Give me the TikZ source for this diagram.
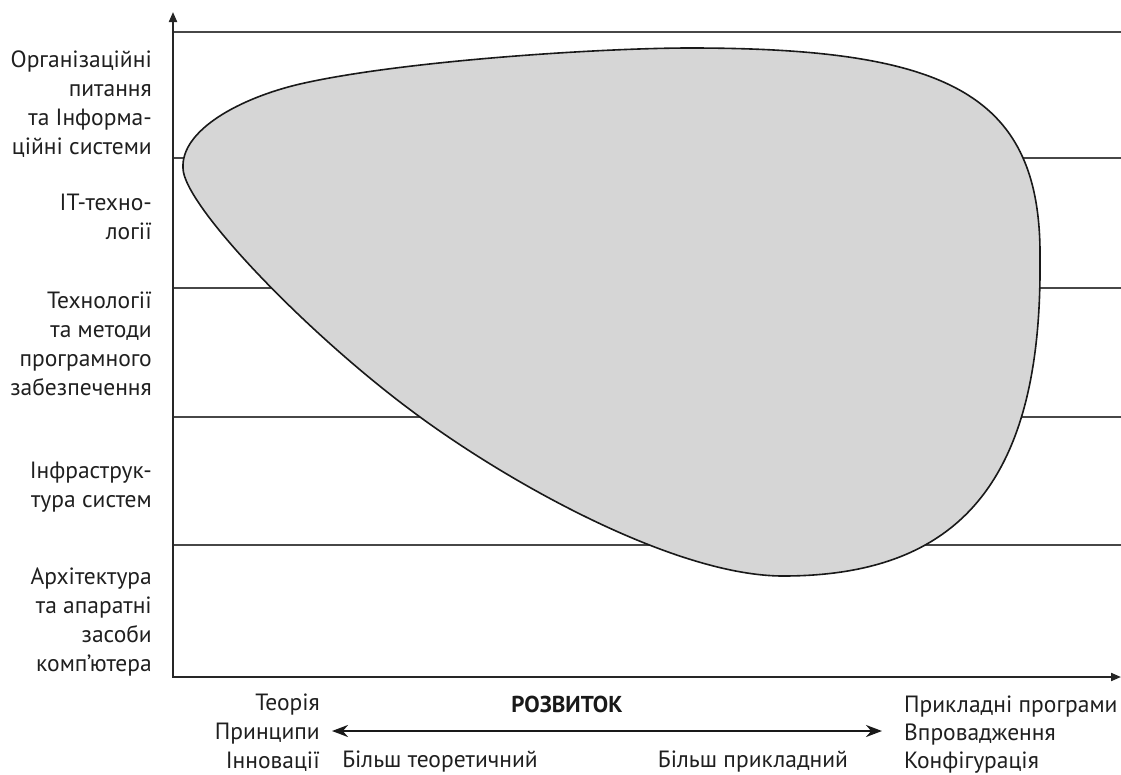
\documentclass[tikz,border=0pt]{standalone}
\usepackage{fontspec}
\setmainfont{PT Sans}
\usetikzlibrary{arrows.meta}
\begin{document}
\begin{tikzpicture}[x=1pt,y=-1pt,
  gridline/.style={line width=2pt, draw=black!72},
  axisline/.style={line width=2pt, draw=black!85, -{Triangle[length=10pt,width=8pt]}},
  blob/.style={line width=1.6pt, draw=black!90, fill=black!16},
  lbl/.style={font=\fontsize{23.5}{29}\selectfont, align=right, anchor=east, inner sep=0pt, text=black!88},
  lblL/.style={font=\fontsize{23.5}{28}\selectfont, align=left, anchor=west, inner sep=0pt, text=black!88},
  dev/.style={line width=2.4pt, draw=black!90, {Stealth[length=16pt,width=12pt]}-{Stealth[length=16pt,width=12pt]}}]
\useasboundingbox (0,0) rectangle (1121,774);
% grid lines
\coordinate (g1a) at (173,32);  \coordinate (g1b) at (1121,32);
\coordinate (g2a) at (173,158); \coordinate (g2b) at (1121,158);
\coordinate (g3a) at (173,288); \coordinate (g3b) at (1121,288);
\coordinate (g4a) at (173,417); \coordinate (g4b) at (1121,417);
\coordinate (g5a) at (173,545); \coordinate (g5b) at (1121,545);
\foreach \i in {1,...,5} {\draw[gridline] (g\i a) -- (g\i b);}
% blob
\coordinate (bL) at (183,168);
\coordinate (bA) at (300,84);
\coordinate (bT) at (690,48);
\coordinate (bR) at (1040,260);
\coordinate (bB) at (783,576);
\coordinate (bQ) at (420,417);
\draw[blob] (bL) .. controls (181,130) and (240,98) .. (bA)
  .. controls (400,61) and (600,48) .. (bT)
  .. controls (950,48) and (1042,95) .. (bR)
  .. controls (1042,480) and (960,576) .. (bB)
  .. controls (680,576) and (520,490) .. (bQ)
  .. controls (310,337) and (183,205) .. (bL) -- cycle;
% axes
\coordinate (o) at (173,677);
\coordinate (ytip) at (173,12);
\coordinate (xtip) at (1121,677);
\draw[axisline] (o) -- (ytip);
\draw[axisline] ([xshift=-1pt]o) -- (xtip);
% left labels
\node[lbl] (l1) at (152,104) {Організаційні\\питання\\та Інформа-\\ційні системи};
\node[lbl] (l2) at (152,217) {IT-техно-\\логії};
\node[lbl] (l3) at (152,344) {Технології\\та методи\\програмного\\забезпечення};
\node[lbl] (l4) at (152,487) {Інфраструк-\\тура систем};
\node[lbl] (l5) at (152,622) {Архітектура\\та апаратні\\засоби\\комп’ютера};
% bottom labels
\node[lbl] (theory) at (320,733) {Теорія\\Принципи\\Інновації};
\node[font=\bfseries\fontsize{23}{24}\selectfont, inner sep=0pt, text=black!90] (rozv) at (567,704) {РОЗВИТОК};
\coordinate (aL) at (332,731);
\coordinate (aR) at (882,731);
\draw[dev] (aL) -- (aR);
\node[font=\fontsize{23.5}{24}\selectfont, inner sep=0pt, text=black!88] (theor) at (440,762) {Більш теоретичний};
\node[font=\fontsize{23.5}{24}\selectfont, inner sep=0pt, text=black!88] (appl) at (753,762) {Більш прикладний};
\node[lblL] (prak) at (904,735) {Прикладні програми\\Впровадження\\Конфігурація};
\end{tikzpicture}
\end{document}
